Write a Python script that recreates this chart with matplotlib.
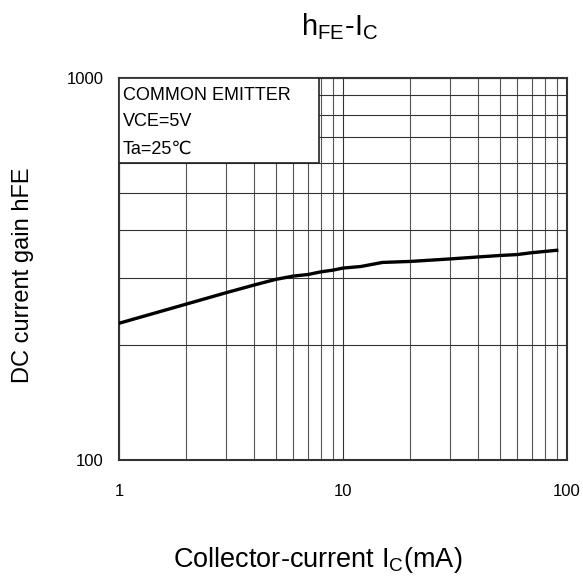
import matplotlib
matplotlib.use("Agg")
import matplotlib.pyplot as plt
from matplotlib.patches import Rectangle
from matplotlib.ticker import FixedLocator, NullFormatter

plt.rcParams['font.family'] = ['Liberation Sans', 'DejaVu Sans']
plt.rcParams['mathtext.fontset'] = 'custom'
plt.rcParams['mathtext.rm'] = 'Liberation Sans'
plt.rcParams['mathtext.it'] = 'Liberation Sans'

ic_ma = [1, 2, 3, 4, 5, 6, 7, 8, 9, 10, 12, 15, 20, 30, 40, 50, 60, 70, 90]
hfe = [228, 256, 274, 287, 297, 303, 306, 311, 314, 318, 321, 329, 331, 336, 340, 343, 345, 349, 354]

x_ticks = [1, 10, 100]
x_tick_labels = ['1', '10', '100']
y_ticks = [100, 1000]
y_tick_labels = ['100', '1000']
legend_lines = ['COMMON EMITTER', 'VCE=5V', 'Ta=25\u2103']

fig = plt.figure(figsize=(5.83, 5.79), dpi=100)
ax = fig.add_axes([119/583, 1-460/579, 448/583, 382/579])
ax.set_xscale('log')
ax.set_yscale('log')
ax.set_xlim(1, 100)
ax.set_ylim(100, 1000)

minor_x = [m * d for d in (1, 10) for m in range(2, 10)]
minor_y = [m * 100 for m in range(2, 10)]
ax.xaxis.set_major_locator(FixedLocator(x_ticks))
ax.yaxis.set_major_locator(FixedLocator(y_ticks))
ax.xaxis.set_minor_locator(FixedLocator(minor_x))
ax.yaxis.set_minor_locator(FixedLocator(minor_y))
ax.xaxis.set_minor_formatter(NullFormatter())
ax.yaxis.set_minor_formatter(NullFormatter())
ax.set_xticklabels(x_tick_labels)
ax.set_yticklabels(y_tick_labels)
ax.tick_params(which='both', direction='in', length=0, labelsize=12, colors='black')
ax.tick_params(axis='x', pad=17)
ax.tick_params(axis='y', pad=11)

ax.grid(True, which='both', color='#333333', linewidth=0.8)
ax.grid(True, which='minor', axis='x', color='#555555', linewidth=0.8)
for s in ax.spines.values():
    s.set_color('#333333')
    s.set_linewidth(1.5)

ax.plot(ic_ma, hfe, color='black', linewidth=2.4, zorder=3)

# legend box (axes coordinates)
box = Rectangle((0, 1-85/382), 200/448, 85/382, transform=ax.transAxes,
                facecolor='white', edgecolor='#222222', linewidth=1.2, zorder=4)
ax.add_patch(box)
for i, t in enumerate(legend_lines):
    ax.text(4/448, 1-(17 + 27*i)/382, t, transform=ax.transAxes, fontsize=13,
            va='center', ha='left', zorder=5)

fig.text(340/583, 1-27/579, r'h$_{\mathregular{FE}}$-I$_{\mathregular{C}}$', ha='center', va='center', fontsize=21)
fig.text(318/583, 1-560/579, r'Collector-current I$_{\mathregular{C}}$(mA)', ha='center', va='center', fontsize=19.5)
fig.text(23/583, 1-275/579, 'DC current gain hFE', ha='center', va='center', rotation=90, fontsize=17)

fig.savefig('out.png', dpi=100)
